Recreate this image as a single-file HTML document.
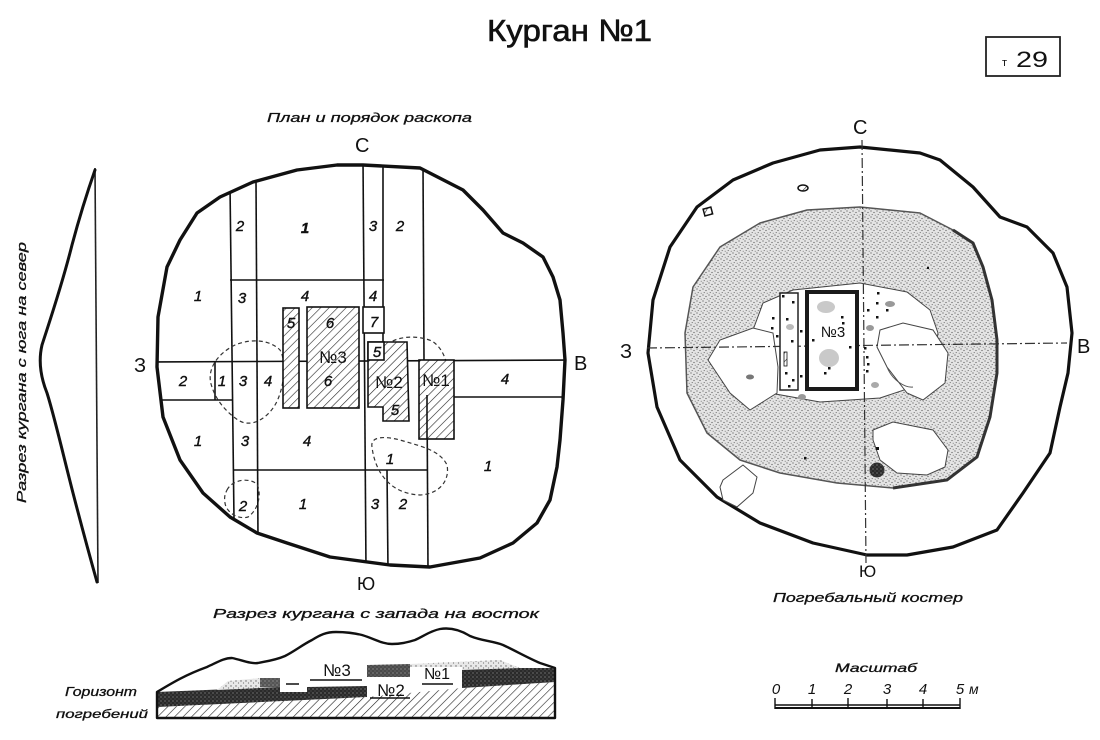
<!DOCTYPE html>
<html><head><meta charset="utf-8"><style>
html,body{margin:0;padding:0;background:#fff;}
svg{display:block;}
text{font-family:"Liberation Sans","DejaVu Sans",sans-serif;fill:#111;}
.it{font-style:italic;}
</style></head><body>
<svg width="1100" height="740" viewBox="0 0 1100 740" xmlns="http://www.w3.org/2000/svg">
<defs>
<pattern id="hatch" width="6" height="6" patternUnits="userSpaceOnUse" patternTransform="rotate(45)">
<rect width="6" height="6" fill="#fff"/><line x1="0" y1="0" x2="0" y2="6" stroke="#222" stroke-width="1.2"/></pattern>
<pattern id="dots" width="6" height="6" patternUnits="userSpaceOnUse">
<rect width="6" height="6" fill="#e4e4e4"/>
<circle cx="1" cy="1" r=".6" fill="#555"/><circle cx="4" cy="2.5" r=".6" fill="#555"/>
<circle cx="2.2" cy="4.6" r=".55" fill="#666"/><circle cx="5.2" cy="5.3" r=".5" fill="#666"/></pattern>
<pattern id="dark" width="4" height="4" patternUnits="userSpaceOnUse">
<rect width="4" height="4" fill="#2a2a2a"/><circle cx="1" cy="1" r=".6" fill="#999"/><circle cx="3" cy="3" r=".5" fill="#777"/></pattern>
<pattern id="light" width="5" height="5" patternUnits="userSpaceOnUse">
<rect width="5" height="5" fill="#e8e8e8"/><circle cx="1" cy="1" r=".7" fill="#666"/><circle cx="3.5" cy="3" r=".6" fill="#777"/></pattern>
<clipPath id="mound"><polygon points="363,165 420,168 463,190 483,210 503,233 523,243 543,257 553,277 560,300 563,333 565,360 563,400 560,440 557,467 550,500 537,523 513,543 480,558 430,567 390,565 330,557 287,543 257,533 230,517 203,493 180,460 163,417 157,367 158,317 167,267 180,240 197,213 220,197 253,182 297,170 337,165"/></clipPath>
</defs>

<!-- Title -->
<text x="487" y="41" font-size="31" textLength="165" lengthAdjust="spacingAndGlyphs" stroke="#111" stroke-width=".6">Курган №1</text>
<rect x="986" y="37" width="74" height="39" fill="none" stroke="#222" stroke-width="1.8"/>
<text x="1002" y="66" font-size="11">т</text>
<text x="1016" y="67" font-size="22" textLength="32" lengthAdjust="spacingAndGlyphs">29</text>

<!-- Left vertical profile -->
<text class="it" transform="translate(26,503) rotate(-90)" font-size="13" textLength="261" lengthAdjust="spacingAndGlyphs" stroke="#111" stroke-width=".3">Разрез кургана с юга на север</text>
<path d="M95,168 L98,583" stroke="#222" stroke-width="1.6" fill="none"/>
<path d="M95,170 C88,190 80,215 72,245 C62,285 50,320 42,345 C38,362 41,378 47,393 C54,415 62,450 73,493 C80,520 88,550 97,582" stroke="#111" stroke-width="3" fill="none" stroke-linecap="round"/>

<!-- Left plan -->
<text class="it" x="267" y="122" font-size="13" textLength="205" lengthAdjust="spacingAndGlyphs" stroke="#111" stroke-width=".3">План и порядок раскопа</text>
<text x="355" y="152" font-size="20">С</text>
<text x="134" y="372" font-size="20">З</text>
<text x="574" y="370" font-size="20">В</text>
<text x="357" y="590" font-size="18">Ю</text>

<g clip-path="url(#mound)" stroke="#111" stroke-width="1.6" fill="none">
<line x1="230" y1="185" x2="234" y2="520"/>
<line x1="256" y1="180" x2="258" y2="540"/>
<line x1="363" y1="160" x2="366" y2="570"/>
<line x1="383" y1="160" x2="383" y2="345"/>
<line x1="387" y1="470" x2="388" y2="570"/>
<line x1="423" y1="165" x2="424" y2="360"/>
<line x1="427" y1="395" x2="428" y2="570"/>
<line x1="230" y1="280" x2="384" y2="280"/>
<line x1="150" y1="362" x2="570" y2="360"/>
<line x1="150" y1="400" x2="233" y2="400"/>
<line x1="454" y1="397" x2="570" y2="397"/>
<line x1="233" y1="470" x2="427" y2="470"/>
<line x1="215" y1="362" x2="215" y2="400"/>
</g>
<!-- dashed blobs -->
<g fill="none" stroke="#333" stroke-width="1.2" stroke-dasharray="4,3">
<path d="M212,387 C206,372 215,355 235,345 C252,338 270,340 280,350 C287,362 284,390 275,405 C266,420 250,428 238,420 C226,412 216,400 212,387Z"/>
<path d="M387,345 C395,337 415,334 432,341 C446,350 450,370 448,390 C446,405 436,416 420,414"/>
<path d="M372,447 C370,436 385,436 400,440 C420,446 440,450 447,465 C450,480 440,494 420,495 C400,494 388,485 380,472 C375,463 373,455 372,447Z"/>
<path d="M227,490 C232,480 248,477 257,484 C262,495 258,510 248,517 C238,520 226,512 225,503 C224,497 225,494 227,490Z"/>
</g>
<!-- hatched rects -->
<g stroke="#111" stroke-width="1.6">
<rect x="283" y="308" width="16" height="100" fill="url(#hatch)"/>
<rect x="307" y="307" width="52" height="101" fill="url(#hatch)"/>
<rect x="363" y="307" width="21" height="26" fill="#fff"/>
<polygon points="368,342 407,342 409,421 383,421 383,407 368,407" fill="url(#hatch)"/>
<rect x="368" y="342" width="16" height="18" fill="#fff"/>
<rect x="419" y="360" width="35" height="79" fill="url(#hatch)"/>
<line x1="427" y1="395" x2="427" y2="439"/>
</g>
<polygon points="363,165 420,168 463,190 483,210 503,233 523,243 543,257 553,277 560,300 563,333 565,360 563,400 560,440 557,467 550,500 537,523 513,543 480,558 430,567 390,565 330,557 287,543 257,533 230,517 203,493 180,460 163,417 157,367 158,317 167,267 180,240 197,213 220,197 253,182 297,170 337,165" fill="none" stroke="#111" stroke-width="3.4" stroke-linejoin="round"/>

<g class="it" font-size="15" text-anchor="middle" stroke="#111" stroke-width=".4">
<text x="240" y="231">2</text><text x="305" y="233" font-weight="bold">1</text><text x="373" y="231">3</text><text x="400" y="231">2</text>
<text x="198" y="301">1</text><text x="242" y="303">3</text><text x="305" y="301">4</text><text x="373" y="301">4</text>
<text x="291" y="328">5</text><text x="330" y="328">6</text><text x="374" y="327">7</text>
<text x="328" y="386">6</text>
<text x="183" y="386">2</text><text x="222" y="386">1</text><text x="243" y="386">3</text><text x="268" y="386">4</text>
<text x="377" y="357">5</text><text x="395" y="415">5</text>
<text x="505" y="384">4</text>
<text x="198" y="446">1</text><text x="245" y="446">3</text><text x="307" y="446">4</text>
<text x="390" y="464">1</text><text x="488" y="471">1</text>
<text x="243" y="511">2</text><text x="303" y="509">1</text><text x="375" y="509">3</text><text x="403" y="509">2</text>
</g>
<g font-size="17" text-anchor="middle">
<text x="333" y="363">№3</text><text x="389" y="388">№2</text><text x="436" y="386">№1</text>
</g>

<!-- Right plan -->
<polygon points="860,147 920,153 940,160 973,187 1000,217 1027,227 1053,253 1067,287 1072,333 1068,373 1060,407 1050,453 1023,493 997,530 953,547 907,555 867,555 813,543 760,523 717,497 680,460 657,407 648,353 653,300 670,247 697,207 733,180 773,163 820,150" fill="#fff" stroke="#111" stroke-width="3.2" stroke-linejoin="round"/>
<polygon points="860,207 920,213 953,230 973,243 983,267 992,300 997,340 997,373 990,417 977,457 947,480 893,488 837,483 780,473 740,460 707,433 687,393 685,333 693,287 720,247 760,223 807,210" fill="url(#dots)" stroke="#555" stroke-width="1.5" stroke-linejoin="round"/>
<path d="M953,230 L973,243 L983,267 L992,300 L997,340 L997,373 L990,417 L977,457 L947,480 L893,488" fill="none" stroke="#333" stroke-width="3"/>
<g fill="#fff" stroke="#444" stroke-width="1">
<polygon points="753,330 763,303 793,290 860,283 907,292 930,310 938,333 933,363 913,387 880,398 820,402 770,393 753,373"/>
<polygon points="708,360 720,340 753,328 773,333 778,367 777,393 750,410 730,393"/>
<polygon points="880,330 903,323 933,330 948,353 945,383 923,400 907,393 887,367 877,347"/>
<polygon points="873,430 893,422 933,430 948,450 945,467 927,475 897,473 880,460 873,440"/>
<polygon points="723,480 743,465 757,477 753,493 737,507 723,500 720,487"/>
</g>
<path d="M887,367 C892,380 905,388 913,387" fill="none" stroke="#555" stroke-width="1"/>
<!-- axes -->
<g stroke="#333" stroke-width="1.2" stroke-dasharray="10,3,2,3" fill="none">
<line x1="862" y1="140" x2="866" y2="563"/>
<line x1="647" y1="348" x2="1067" y2="343"/>
</g>
<!-- graves -->
<rect x="780" y="293" width="18" height="97" fill="#fff" stroke="#222" stroke-width="1.5"/>
<rect x="807" y="292" width="50" height="97" fill="#fff" stroke="#1a1a1a" stroke-width="4"/>
<ellipse cx="826" cy="307" rx="9" ry="6" fill="#bbb" opacity=".8"/>
<ellipse cx="829" cy="358" rx="10" ry="9" fill="#bbb" opacity=".8"/>
<text x="833" y="337" font-size="15" text-anchor="middle">№3</text>
<g fill="#111">
<rect x="782" y="295" width="2.5" height="2.5"/><rect x="792" y="301" width="2.5" height="2.5"/><rect x="786" y="318" width="2.5" height="2.5"/>
<rect x="791" y="340" width="2.5" height="2.5"/><rect x="785" y="372" width="2.5" height="2.5"/><rect x="792" y="379" width="2.5" height="2.5"/>
<rect x="788" y="385" width="2.5" height="2.5"/><rect x="784" y="352" width="3" height="14" fill="url(#hatch)" stroke="#111" stroke-width=".8"/>
<rect x="772" y="317" width="2.5" height="2.5"/><rect x="771" y="327" width="2.5" height="2.5"/><rect x="776" y="335" width="2.5" height="2.5"/>
<rect x="800" y="330" width="2.5" height="2.5"/><rect x="800" y="375" width="2.5" height="2.5"/>
<rect x="877" y="292" width="2.5" height="2.5"/><rect x="876" y="302" width="2.5" height="2.5"/><rect x="867" y="309" width="2.5" height="2.5"/>
<rect x="886" y="309" width="2.5" height="2.5"/><rect x="876" y="316" width="2.5" height="2.5"/><rect x="864" y="347" width="2.5" height="2.5"/>
<rect x="866" y="356" width="2.5" height="2.5"/><rect x="867" y="363" width="2.5" height="2.5"/><rect x="866" y="370" width="2.5" height="2.5"/>
<rect x="841" y="316" width="2.5" height="2.5"/><rect x="842" y="322" width="2.5" height="2.5"/><rect x="849" y="346" width="2.5" height="2.5"/>
<rect x="824" y="372" width="2.5" height="2.5"/><rect x="828" y="367" width="2.5" height="2.5"/><rect x="812" y="339" width="2.5" height="2.5"/>
<rect x="804" y="457" width="2.5" height="2.5"/><rect x="876" y="447" width="3" height="3"/><rect x="927" y="267" width="2" height="2"/>
</g>
<ellipse cx="890" cy="304" rx="5" ry="3" fill="#999"/><ellipse cx="870" cy="328" rx="4" ry="3" fill="#999"/>
<ellipse cx="875" cy="385" rx="4" ry="3" fill="#aaa"/><ellipse cx="802" cy="397" rx="4" ry="3" fill="#999"/>
<ellipse cx="790" cy="327" rx="4" ry="3" fill="#bbb"/><ellipse cx="750" cy="377" rx="4" ry="2.5" fill="#777"/>
<circle cx="877" cy="470" r="7" fill="url(#dark)" stroke="#333" stroke-width="1"/>
<ellipse cx="803" cy="188" rx="5" ry="3" fill="url(#hatch)" stroke="#111" stroke-width="1.5"/>
<rect x="704" y="208" width="8" height="7" fill="url(#hatch)" stroke="#111" stroke-width="1.5" transform="rotate(-15 708 212)"/>
<text x="853" y="134" font-size="20">С</text>
<text x="620" y="358" font-size="20">З</text>
<text x="1077" y="353" font-size="20">В</text>
<text x="859" y="577" font-size="17">Ю</text>
<text class="it" x="773" y="602" font-size="13" textLength="190" lengthAdjust="spacingAndGlyphs" stroke="#111" stroke-width=".3">Погребальный костер</text>

<!-- Bottom section -->
<text class="it" x="213" y="618" font-size="13" textLength="326" lengthAdjust="spacingAndGlyphs" stroke="#111" stroke-width=".3">Разрез кургана с запада на восток</text>
<text class="it" x="65" y="696" font-size="13" textLength="72" lengthAdjust="spacingAndGlyphs" stroke="#111" stroke-width=".3">Горизонт</text>
<text class="it" x="56" y="718" font-size="12" textLength="92" lengthAdjust="spacingAndGlyphs" stroke="#111" stroke-width=".3">погребений</text>
<polygon points="157,707 367,697 462,688 555,682 555,718 157,718" fill="url(#hatch)"/>
<polygon points="157,692 280,687 280,692 307,692 307,687 367,686 367,697 157,707" fill="url(#dark)"/>
<polygon points="217,690 228,681 260,678 260,688" fill="url(#light)"/>
<rect x="260" y="678" width="20" height="9" fill="url(#dark)" opacity=".8"/>
<polygon points="367,665 410,664 410,677 367,677" fill="url(#dark)" opacity=".85"/>
<polygon points="410,664 500,660 520,668 462,670 462,667 410,667" fill="url(#light)"/>
<polygon points="462,670 520,668 555,668 555,682 462,688" fill="url(#dark)"/>
<line x1="286" y1="684" x2="299" y2="684" stroke="#111" stroke-width="1.5"/>
<line x1="310" y1="680" x2="362" y2="680" stroke="#111" stroke-width="1.5"/>
<line x1="370" y1="698" x2="410" y2="698" stroke="#111" stroke-width="1.5"/>
<line x1="422" y1="684" x2="453" y2="684" stroke="#111" stroke-width="1.5"/>
<text x="337" y="676" font-size="17" text-anchor="middle">№3</text>
<text x="391" y="696" font-size="17" text-anchor="middle">№2</text>
<text x="437" y="679" font-size="16" text-anchor="middle">№1</text>
<path d="M157,692 C172,683 185,675 207,667 C218,662 224,658 232,658 C242,660 250,664 258,663 C268,661 276,660 285,656 C295,651 302,645 312,640 C320,635 326,632 336,632 C346,632 354,633 362,635 C375,639 382,644 392,644 C402,644 408,642 415,640 C424,636 430,631 440,629 C452,627 462,631 470,636 C482,641 493,641 503,645 C514,650 528,658 540,663 L555,668 L555,718 L157,718 Z" fill="none" stroke="#111" stroke-width="2.4" stroke-linejoin="round"/>

<!-- Scale -->
<text class="it" x="835" y="672" font-size="12" textLength="82" lengthAdjust="spacingAndGlyphs" stroke="#111" stroke-width=".3">Масштаб</text>
<g class="it" font-size="15" text-anchor="middle">
<text x="776" y="694">0</text><text x="812" y="694">1</text><text x="848" y="694">2</text>
<text x="887" y="694">3</text><text x="923" y="694">4</text><text x="960" y="694">5</text>
</g>
<text class="it" x="969" y="694" font-size="14">м</text>
<g stroke="#111" stroke-width="1.4">
<line x1="775" y1="705" x2="960" y2="705"/>
<line x1="775" y1="708" x2="960" y2="708" stroke-width="2"/>
<line x1="775" y1="698" x2="775" y2="709"/><line x1="812" y1="699" x2="812" y2="708"/>
<line x1="848" y1="698" x2="848" y2="708"/><line x1="887" y1="699" x2="887" y2="708"/>
<line x1="923" y1="699" x2="923" y2="708"/><line x1="960" y1="698" x2="960" y2="709"/>
</g>
</svg>
</body></html>
